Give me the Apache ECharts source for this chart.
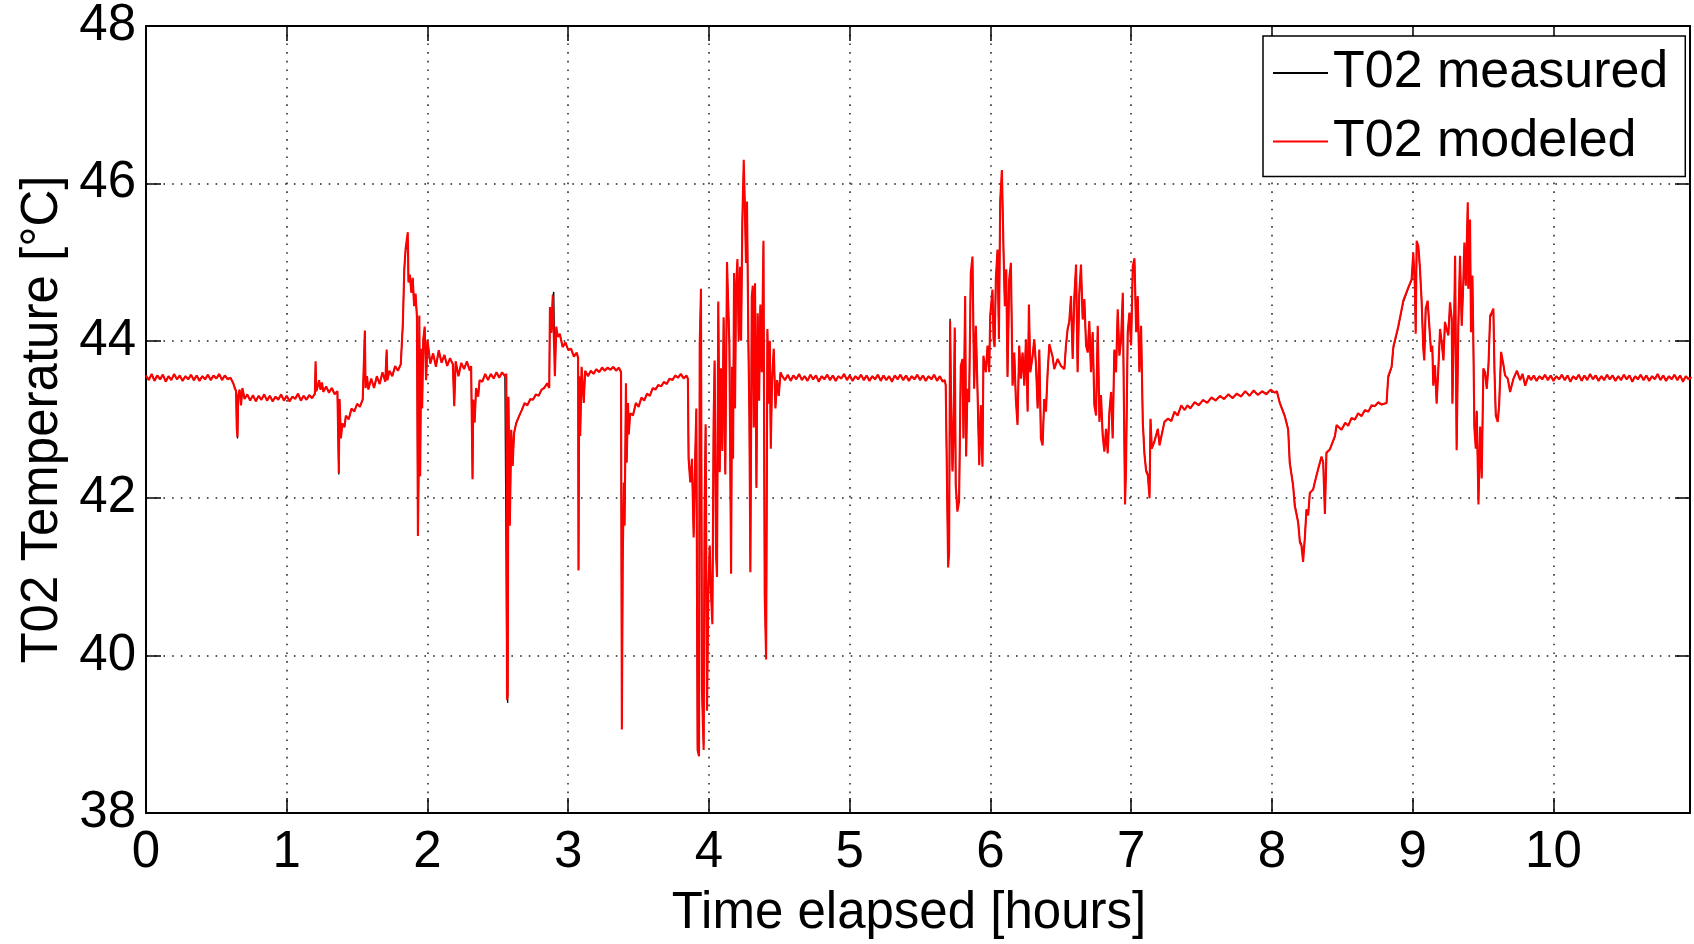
<!DOCTYPE html>
<html>
<head>
<meta charset="utf-8">
<script src="https://cdn.jsdelivr.net/npm/echarts@6/dist/echarts.min.js"></script>
<style>
html,body{margin:0;padding:0;background:#fff;}
#chart{width:1694px;height:944px;}
</style>
</head>
<body>
<div id="chart"></div>
<script>
// Axis ranges / tick labels
const xTickValues = [0,1,2,3,4,5,6,7,8,9,10];
const yTickValues = [38,40,42,44,46,48];
const seriesNames = ['T02 measured', 'T02 modeled'];

// T02 modeled temperature [hours, °C]
const modeledPairs = [
[0,43.56],[0.02,43.50],[0.04,43.58],[0.06,43.49],[0.08,43.56],[0.10,43.51],[0.12,43.57],[0.14,43.48],[0.16,43.55],[0.18,43.50],
[0.20,43.58],[0.22,43.51],[0.24,43.56],[0.26,43.49],[0.28,43.55],[0.30,43.51],[0.32,43.57],[0.34,43.50],[0.36,43.56],[0.38,43.49],
[0.40,43.55],[0.42,43.51],[0.44,43.57],[0.46,43.50],[0.48,43.56],[0.50,43.52],[0.52,43.58],[0.54,43.50],[0.56,43.56],[0.58,43.51],
[0.60,43.53],[0.62,43.46],[0.63,43.40],[0.64,43.36],[0.645,42.88],[0.65,42.78],[0.655,43.30],[0.665,43.38],[0.675,43.18],[0.685,43.40],
[0.70,43.26],[0.72,43.32],[0.74,43.24],[0.76,43.31],[0.78,43.23],[0.80,43.30],[0.82,43.25],[0.84,43.32],[0.86,43.24],[0.88,43.30],
[0.90,43.23],[0.92,43.29],[0.94,43.25],[0.96,43.32],[0.98,43.24],[1.00,43.30],[1.02,43.23],[1.04,43.29],[1.06,43.26],[1.08,43.33],
[1.10,43.24],[1.12,43.30],[1.14,43.25],[1.16,43.31],[1.18,43.27],[1.20,43.33],[1.205,43.74],[1.21,43.36],[1.22,43.42],[1.23,43.50],
[1.24,43.38],[1.25,43.47],[1.26,43.35],[1.28,43.42],[1.30,43.34],[1.32,43.40],[1.34,43.32],[1.36,43.36],[1.37,42.32],[1.375,43.26],
[1.385,42.76],[1.395,42.95],[1.41,42.90],[1.42,43.05],[1.44,43.00],[1.46,43.14],[1.48,43.10],[1.50,43.20],[1.52,43.16],[1.54,43.26],
[1.555,44.13],[1.56,43.40],[1.57,43.55],[1.58,43.38],[1.60,43.52],[1.62,43.40],[1.64,43.55],[1.66,43.45],[1.68,43.60],[1.70,43.48],
[1.71,43.89],[1.715,43.50],[1.73,43.62],[1.75,43.55],[1.77,43.68],[1.79,43.62],[1.81,43.70],[1.825,44.23],[1.835,44.91],[1.845,45.18],
[1.86,45.38],[1.865,44.74],[1.875,44.84],[1.885,44.61],[1.895,44.80],[1.905,44.44],[1.915,44.60],[1.925,44.30],[1.932,41.52],[1.937,42.29],
[1.942,44.32],[1.948,42.28],[1.955,43.90],[1.962,43.14],[1.97,44.02],[1.98,44.18],[1.99,43.50],[2.00,44.01],[2.02,43.71],[2.04,43.84],
[2.06,43.67],[2.08,43.88],[2.10,43.72],[2.12,43.82],[2.14,43.68],[2.16,43.78],[2.18,43.70],[2.19,43.17],[2.20,43.74],[2.22,43.55],
[2.24,43.72],[2.26,43.64],[2.28,43.74],[2.30,43.62],[2.31,43.68],[2.32,42.24],[2.325,43.25],[2.335,42.96],[2.345,43.40],[2.36,43.29],
[2.37,43.50],[2.39,43.48],[2.41,43.58],[2.43,43.50],[2.45,43.58],[2.47,43.52],[2.49,43.60],[2.51,43.53],[2.53,43.60],[2.55,43.55],
[2.56,43.58],[2.565,39.44],[2.57,39.50],[2.575,43.29],[2.585,41.65],[2.595,42.87],[2.605,42.41],[2.615,42.83],[2.63,42.95],[2.65,43.04],
[2.67,43.12],[2.69,43.21],[2.71,43.18],[2.73,43.26],[2.75,43.25],[2.77,43.32],[2.79,43.30],[2.81,43.38],[2.83,43.40],[2.85,43.46],
[2.865,43.40],[2.87,44.43],[2.88,44.10],[2.89,44.58],[2.897,44.60],[2.905,43.55],[2.915,44.18],[2.925,44.05],[2.94,44.09],[2.96,43.92],
[2.98,43.98],[3.00,43.88],[3.02,43.90],[3.04,43.80],[3.06,43.85],[3.07,43.78],[3.073,41.08],[3.078,43.55],[3.085,42.79],[3.095,43.67],
[3.11,43.21],[3.12,43.62],[3.14,43.55],[3.16,43.62],[3.18,43.58],[3.20,43.64],[3.22,43.60],[3.24,43.66],[3.26,43.62],[3.28,43.66],
[3.30,43.63],[3.32,43.67],[3.34,43.62],[3.36,43.66],[3.375,43.60],[3.381,39.06],[3.387,41.19],[3.395,42.20],[3.40,41.65],[3.405,42.49],
[3.41,43.46],[3.415,42.45],[3.425,43.21],[3.43,42.81],[3.44,43.08],[3.46,43.05],[3.48,43.21],[3.50,43.16],[3.52,43.28],[3.54,43.24],
[3.56,43.33],[3.58,43.30],[3.60,43.40],[3.62,43.38],[3.64,43.44],[3.66,43.42],[3.68,43.48],[3.70,43.45],[3.72,43.52],[3.74,43.50],
[3.76,43.56],[3.78,43.53],[3.80,43.58],[3.82,43.52],[3.84,43.56],[3.85,43.52],[3.855,42.50],[3.867,42.20],[3.879,42.50],[3.891,41.50],
[3.903,42.60],[3.910,43.14],[3.919,38.80],[3.929,38.72],[3.934,43.95],[3.943,44.66],[3.950,39.57],[3.962,38.80],[3.969,41.85],[3.976,42.94],
[3.986,39.30],[3.995,40.76],[4.005,41.40],[4.014,40.80],[4.024,40.40],[4.033,42.99],[4.040,43.75],[4.050,41.30],[4.057,41.00],[4.066,44.50],
[4.076,42.33],[4.085,43.65],[4.095,42.60],[4.104,44.30],[4.116,42.30],[4.128,45.00],[4.135,44.56],[4.145,43.95],[4.157,41.04],[4.164,43.67],
[4.171,42.50],[4.178,44.86],[4.185,43.14],[4.192,44.66],[4.202,45.04],[4.211,44.00],[4.221,44.94],[4.228,44.00],[4.237,45.54],[4.247,46.30],
[4.256,45.62],[4.263,44.99],[4.270,45.77],[4.280,43.95],[4.287,43.04],[4.294,41.06],[4.304,44.56],[4.311,44.70],[4.318,42.90],[4.327,44.73],
[4.337,42.13],[4.346,44.35],[4.356,43.24],[4.365,44.46],[4.375,43.60],[4.387,45.27],[4.396,40.76],[4.406,39.95],[4.415,44.15],[4.425,43.20],
[4.432,44.00],[4.439,42.63],[4.448,43.50],[4.460,43.90],[4.472,43.14],[4.484,43.50],[4.496,43.30],[4.508,43.60],
[4.52,43.55],[4.54,43.50],[4.56,43.57],[4.58,43.49],[4.60,43.56],[4.62,43.51],[4.64,43.58],[4.66,43.50],[4.68,43.55],[4.70,43.49],
[4.72,43.57],[4.74,43.51],[4.76,43.56],[4.78,43.48],[4.80,43.55],[4.82,43.51],[4.84,43.57],[4.86,43.50],[4.88,43.56],[4.90,43.49],
[4.92,43.55],[4.94,43.52],[4.96,43.58],[4.98,43.50],[5.00,43.56],[5.02,43.49],[5.04,43.55],[5.06,43.51],[5.08,43.57],[5.10,43.50],
[5.12,43.56],[5.14,43.49],[5.16,43.55],[5.18,43.51],[5.20,43.57],[5.22,43.49],[5.24,43.56],[5.26,43.50],[5.28,43.55],[5.30,43.48],
[5.32,43.56],[5.34,43.51],[5.36,43.57],[5.38,43.50],[5.40,43.56],[5.42,43.49],[5.44,43.55],[5.46,43.51],[5.48,43.57],[5.50,43.50],
[5.52,43.56],[5.54,43.49],[5.56,43.55],[5.58,43.51],[5.60,43.57],[5.62,43.49],[5.64,43.55],[5.66,43.48],[5.675,43.50],[5.682,43.43],
[5.699,41.12],[5.706,41.30],[5.713,44.25],[5.720,43.24],[5.730,42.34],[5.737,42.78],[5.746,44.17],[5.753,42.17],[5.765,41.83],[5.777,41.96],
[5.789,43.68],[5.801,43.77],[5.808,42.76],[5.820,44.57],[5.827,42.53],[5.836,43.39],[5.848,43.22],[5.860,44.86],[5.872,45.07],[5.884,43.39],
[5.896,44.19],[5.908,43.35],[5.920,42.42],[5.931,43.18],[5.943,42.40],[5.950,43.81],[5.967,43.60],[5.979,43.94],[5.991,43.60],[5.998,44.32],
[6.014,44.65],[6.022,44.02],[6.029,43.92],[6.038,44.78],[6.050,45.16],[6.060,44.02],[6.069,45.79],[6.081,46.17],[6.093,45.12],[6.102,44.44],
[6.112,44.91],[6.121,43.54],[6.133,44.78],[6.145,44.99],[6.157,43.43],[6.169,43.85],[6.180,43.26],[6.192,42.93],[6.204,43.94],[6.216,43.52],
[6.228,43.85],[6.240,43.43],[6.252,44.02],[6.264,43.10],[6.273,44.46],[6.283,43.60],[6.299,43.81],[6.311,44.02],[6.323,43.70],[6.335,43.14],
[6.347,43.89],[6.358,42.76],[6.370,42.67],[6.382,43.26],[6.394,43.10],[6.406,43.60],[6.418,43.96],[6.430,43.94],[6.441,43.80],[6.453,43.64],
[6.477,43.77],[6.501,43.68],[6.525,43.64],[6.536,43.94],[6.548,44.15],[6.560,44.25],[6.572,44.57],[6.584,43.77],[6.596,44.57],[6.608,44.97],
[6.619,43.60],[6.631,44.61],[6.643,44.97],[6.655,44.27],[6.667,44.53],[6.679,43.94],[6.691,43.85],[6.702,44.25],[6.714,43.60],[6.726,44.11],
[6.738,43.18],[6.750,43.05],[6.762,44.19],[6.774,42.97],[6.785,43.31],[6.797,42.80],[6.809,42.59],[6.821,42.88],[6.833,42.57],[6.845,43.10],
[6.857,43.35],[6.868,42.76],[6.880,43.89],[6.892,43.60],[6.904,44.40],[6.916,43.81],[6.928,44.02],[6.940,44.61],[6.947,43.35],[6.956,41.92],
[6.963,42.38],[6.975,44.11],[6.987,44.36],[6.999,43.94],[7.011,44.95],[7.023,45.05],[7.035,44.11],[7.046,44.57],[7.058,43.60],[7.070,44.19],
[7.082,42.97],[7.094,42.55],[7.106,42.34],[7.118,42.29],[7.130,42.00],[7.137,43.01],[7.146,42.63],[7.165,42.72],[7.189,42.88],[7.201,42.67],
[7.236,42.97],[7.260,43.01],[7.285,42.98],[7.307,43.10],[7.330,43.05],[7.355,43.18],[7.38,43.12],[7.40,43.18],[7.42,43.14],[7.45,43.22],
[7.48,43.18],[7.51,43.25],[7.54,43.21],[7.57,43.28],[7.60,43.24],[7.63,43.30],[7.66,43.26],[7.69,43.32],[7.72,43.27],[7.75,43.33],
[7.78,43.29],[7.81,43.36],[7.84,43.30],[7.87,43.37],[7.90,43.31],[7.93,43.36],[7.96,43.32],[7.99,43.38],[8.02,43.34],[8.035,43.36],
[8.055,43.21],[8.091,43.04],[8.115,42.87],[8.126,42.45],[8.150,42.16],[8.162,41.90],[8.186,41.69],[8.198,41.44],[8.209,41.40],[8.221,41.19],
[8.233,41.48],[8.245,41.86],[8.257,41.78],[8.269,42.07],[8.293,42.11],[8.304,42.20],[8.328,42.37],[8.352,42.53],[8.364,42.45],[8.376,41.80],
[8.387,42.58],[8.411,42.62],[8.447,42.79],[8.459,42.93],[8.494,42.87],[8.520,42.96],[8.542,42.92],[8.565,43.02],[8.589,43.00],[8.612,43.08],
[8.636,43.04],[8.660,43.12],[8.684,43.10],[8.708,43.18],[8.731,43.17],[8.755,43.22],[8.779,43.19],[8.814,43.21],[8.826,43.55],[8.850,43.67],
[8.862,43.92],[8.897,44.18],[8.933,44.51],[8.969,44.68],[8.992,44.78],[9.004,45.12],[9.016,44.66],[9.021,44.09],[9.028,45.27],[9.040,45.20],
[9.051,44.93],[9.063,44.51],[9.075,43.90],[9.082,43.75],[9.092,44.41],[9.106,44.51],[9.116,44.24],[9.130,43.86],[9.139,43.94],[9.146,43.43],
[9.158,43.69],[9.170,43.20],[9.182,43.65],[9.194,44.15],[9.206,43.98],[9.218,43.75],[9.229,44.24],[9.241,44.15],[9.253,44.07],[9.265,44.49],
[9.277,44.28],[9.282,43.20],[9.296,44.45],[9.301,45.08],[9.312,42.61],[9.324,44.19],[9.336,45.08],[9.348,44.19],[9.360,44.78],[9.367,45.25],
[9.377,44.70],[9.391,45.76],[9.395,44.66],[9.407,45.54],[9.414,44.11],[9.424,44.83],[9.431,43.94],[9.438,42.89],[9.448,42.63],[9.455,43.10],
[9.467,41.92],[9.479,42.91],[9.490,42.25],[9.502,43.65],[9.514,43.60],[9.526,43.39],[9.538,43.69],[9.550,44.32],[9.562,44.36],[9.573,44.41],
[9.581,43.60],[9.590,43.05],[9.604,42.97],[9.614,43.18],[9.628,43.86],[9.645,43.69],[9.656,43.56],[9.675,43.52],[9.692,43.35],[9.716,43.52],
[9.740,43.62],[9.763,43.50],[9.780,43.58],[9.799,43.43],[9.823,43.56],
[9.84,43.50],[9.86,43.56],[9.88,43.49],[9.90,43.55],[9.92,43.51],[9.94,43.57],[9.96,43.50],[9.98,43.56],[10.00,43.49],[10.02,43.55],
[10.04,43.51],[10.06,43.57],[10.08,43.50],[10.10,43.56],[10.12,43.48],[10.14,43.55],[10.16,43.51],[10.18,43.57],[10.20,43.49],[10.22,43.56],
[10.24,43.50],[10.26,43.58],[10.28,43.51],[10.30,43.56],[10.32,43.49],[10.34,43.55],[10.36,43.50],[10.38,43.57],[10.40,43.51],[10.42,43.56],
[10.44,43.49],[10.46,43.55],[10.48,43.50],[10.50,43.57],[10.52,43.51],[10.54,43.56],[10.56,43.48],[10.58,43.55],[10.60,43.51],[10.62,43.57],
[10.64,43.50],[10.66,43.56],[10.68,43.49],[10.70,43.55],[10.72,43.51],[10.74,43.58],[10.76,43.50],[10.78,43.56],[10.80,43.49],[10.82,43.55],
[10.84,43.51],[10.86,43.57],[10.88,43.50],[10.90,43.56],[10.92,43.48],[10.94,43.55],[10.96,43.51],[10.98,43.54]
];

// T02 measured temperature [hours, °C]: almost identical to the model, differs at a few spike tips
const measuredPairs = [
[0,43.55],[0.02,43.51],[0.04,43.57],[0.06,43.50],[0.08,43.56],[0.10,43.52],[0.12,43.56],[0.14,43.49],[0.16,43.55],[0.18,43.51],
[0.20,43.57],[0.22,43.51],[0.24,43.55],[0.26,43.50],[0.28,43.55],[0.30,43.52],[0.32,43.56],[0.34,43.50],[0.36,43.56],[0.38,43.50],
[0.40,43.55],[0.42,43.52],[0.44,43.56],[0.46,43.51],[0.48,43.56],[0.50,43.52],[0.52,43.57],[0.54,43.51],[0.56,43.56],[0.58,43.52],
[0.60,43.53],[0.62,43.46],[0.63,43.41],[0.64,43.36],[0.645,42.90],[0.65,42.76],[0.655,43.30],[0.665,43.37],[0.675,43.19],[0.685,43.39],
[0.70,43.27],[0.72,43.31],[0.74,43.25],[0.76,43.30],[0.78,43.24],[0.80,43.30],[0.82,43.26],[0.84,43.31],[0.86,43.25],[0.88,43.30],
[0.90,43.24],[0.92,43.29],[0.94,43.26],[0.96,43.31],[0.98,43.25],[1.00,43.30],[1.02,43.24],[1.04,43.29],[1.06,43.27],[1.08,43.32],
[1.10,43.25],[1.12,43.30],[1.14,43.26],[1.16,43.31],[1.18,43.28],[1.20,43.32],[1.205,43.70],[1.21,43.36],[1.22,43.42],[1.23,43.49],
[1.24,43.38],[1.25,43.46],[1.26,43.36],[1.28,43.41],[1.30,43.35],[1.32,43.40],[1.34,43.33],[1.36,43.36],[1.37,42.30],[1.375,43.26],
[1.385,42.78],[1.395,42.95],[1.41,42.91],[1.42,43.04],[1.44,43.01],[1.46,43.13],[1.48,43.11],[1.50,43.19],[1.52,43.17],[1.54,43.25],
[1.555,44.10],[1.56,43.41],[1.57,43.54],[1.58,43.39],[1.60,43.51],[1.62,43.41],[1.64,43.54],[1.66,43.46],[1.68,43.59],[1.70,43.49],
[1.71,43.86],[1.715,43.51],[1.73,43.61],[1.75,43.56],[1.77,43.67],[1.79,43.63],[1.81,43.70],[1.825,44.20],[1.835,44.90],[1.845,45.16],
[1.86,45.20],[1.865,44.76],[1.875,44.83],[1.885,44.62],[1.895,44.79],[1.905,44.45],[1.915,44.59],[1.925,44.31],[1.932,41.55],[1.937,42.30],
[1.942,44.30],[1.948,42.30],[1.955,43.89],[1.962,43.15],[1.97,44.01],[1.98,44.16],[1.99,43.51],[2.00,44.00],[2.02,43.72],[2.04,43.83],
[2.06,43.68],[2.08,43.87],[2.10,43.73],[2.12,43.81],[2.14,43.69],[2.16,43.77],[2.18,43.71],[2.19,43.19],[2.20,43.73],[2.22,43.56],
[2.24,43.71],[2.26,43.65],[2.28,43.73],[2.30,43.63],[2.31,43.67],[2.32,42.26],[2.325,43.25],[2.335,42.97],[2.345,43.39],[2.36,43.30],
[2.37,43.49],[2.39,43.49],[2.41,43.57],[2.43,43.51],[2.45,43.57],[2.47,43.53],[2.49,43.59],[2.51,43.54],[2.53,43.59],[2.55,43.56],
[2.56,43.57],[2.565,39.48],[2.57,39.40],[2.575,43.28],[2.585,41.68],[2.595,42.86],[2.605,42.43],[2.615,42.82],[2.63,42.96],[2.65,43.04],
[2.67,43.12],[2.69,43.20],[2.71,43.19],[2.73,43.25],[2.75,43.26],[2.77,43.31],[2.79,43.31],[2.81,43.37],[2.83,43.41],[2.85,43.45],
[2.865,43.41],[2.87,44.40],[2.88,44.12],[2.89,44.56],[2.897,44.62],[2.905,43.57],[2.915,44.16],[2.925,44.06],[2.94,44.08],[2.96,43.93],
[2.98,43.97],[3.00,43.89],[3.02,43.89],[3.04,43.81],[3.06,43.84],[3.07,43.79],[3.073,41.10],[3.078,43.54],[3.085,42.80],[3.095,43.66],
[3.11,43.22],[3.12,43.61],[3.14,43.56],[3.16,43.61],[3.18,43.59],[3.20,43.63],[3.22,43.61],[3.24,43.65],[3.26,43.63],[3.28,43.65],
[3.30,43.64],[3.32,43.66],[3.34,43.63],[3.36,43.65],[3.375,43.61],[3.381,39.12],[3.387,41.20],[3.395,42.19],[3.40,41.67],[3.405,42.48],
[3.41,43.44],[3.415,42.46],[3.425,43.20],[3.43,42.82],[3.44,43.08],[3.46,43.06],[3.48,43.20],[3.50,43.17],[3.52,43.27],[3.54,43.25],
[3.56,43.32],[3.58,43.31],[3.60,43.39],[3.62,43.39],[3.64,43.43],[3.66,43.43],[3.68,43.47],[3.70,43.46],[3.72,43.51],[3.74,43.51],
[3.76,43.55],[3.78,43.54],[3.80,43.57],[3.82,43.53],[3.84,43.55],[3.85,43.52],[3.855,42.52],[3.867,42.22],[3.879,42.48],[3.891,41.54],
[3.903,42.58],[3.910,43.10],[3.919,38.86],[3.929,38.78],[3.934,43.90],[3.943,44.60],[3.950,39.62],[3.962,38.86],[3.969,41.86],[3.976,42.90],
[3.986,39.36],[3.995,40.78],[4.005,41.38],[4.014,40.82],[4.024,40.44],[4.033,42.96],[4.040,43.72],[4.050,41.32],[4.057,41.04],[4.066,44.46],
[4.076,42.36],[4.085,43.62],[4.095,42.62],[4.104,44.27],[4.116,42.33],[4.128,44.96],[4.135,44.54],[4.145,43.93],[4.157,41.08],[4.164,43.65],
[4.171,42.52],[4.178,44.82],[4.185,43.16],[4.192,44.63],[4.202,45.00],[4.211,44.02],[4.221,44.90],[4.228,44.02],[4.237,45.50],[4.247,46.20],
[4.256,45.58],[4.263,45.00],[4.270,45.72],[4.280,43.97],[4.287,43.06],[4.294,41.10],[4.304,44.52],[4.311,44.67],[4.318,42.92],[4.327,44.70],
[4.337,42.16],[4.346,44.32],[4.356,43.26],[4.365,44.43],[4.375,43.61],[4.387,45.22],[4.396,40.80],[4.406,40.00],[4.415,44.12],[4.425,43.22],
[4.432,43.98],[4.439,42.65],[4.448,43.50],[4.460,43.88],[4.472,43.16],[4.484,43.50],[4.496,43.31],[4.508,43.59],
[4.52,43.55],[4.54,43.51],[4.56,43.56],[4.58,43.50],[4.60,43.56],[4.62,43.52],[4.64,43.57],[4.66,43.51],[4.68,43.55],[4.70,43.50],
[4.72,43.56],[4.74,43.52],[4.76,43.56],[4.78,43.49],[4.80,43.55],[4.82,43.52],[4.84,43.56],[4.86,43.51],[4.88,43.56],[4.90,43.50],
[4.92,43.55],[4.94,43.52],[4.96,43.57],[4.98,43.51],[5.00,43.56],[5.02,43.50],[5.04,43.55],[5.06,43.52],[5.08,43.56],[5.10,43.51],
[5.12,43.56],[5.14,43.50],[5.16,43.55],[5.18,43.52],[5.20,43.56],[5.22,43.50],[5.24,43.56],[5.26,43.51],[5.28,43.55],[5.30,43.49],
[5.32,43.56],[5.34,43.52],[5.36,43.56],[5.38,43.51],[5.40,43.56],[5.42,43.50],[5.44,43.55],[5.46,43.52],[5.48,43.56],[5.50,43.51],
[5.52,43.56],[5.54,43.50],[5.56,43.55],[5.58,43.52],[5.60,43.56],[5.62,43.50],[5.64,43.55],[5.66,43.49],[5.675,43.50],[5.682,43.44],
[5.699,41.16],[5.706,41.32],[5.713,44.28],[5.720,43.25],[5.730,42.36],[5.737,42.77],[5.746,44.14],[5.753,42.19],[5.765,41.86],[5.777,41.98],
[5.789,43.66],[5.801,43.76],[5.808,42.78],[5.820,44.54],[5.827,42.55],[5.836,43.38],[5.848,43.23],[5.860,44.83],[5.872,45.03],[5.884,43.41],
[5.896,44.17],[5.908,43.36],[5.920,42.45],[5.931,43.18],[5.943,42.43],[5.950,43.79],[5.967,43.61],[5.979,43.92],[5.991,43.61],[5.998,44.30],
[6.014,44.62],[6.022,44.03],[6.029,43.93],[6.038,44.75],[6.050,45.13],[6.060,44.04],[6.069,45.74],[6.081,46.10],[6.093,45.10],[6.102,44.46],
[6.112,44.88],[6.121,43.56],[6.133,44.75],[6.145,44.96],[6.157,43.45],[6.169,43.84],[6.180,43.28],[6.192,42.95],[6.204,43.92],[6.216,43.53],
[6.228,43.84],[6.240,43.44],[6.252,44.00],[6.264,43.12],[6.273,44.43],[6.283,43.61],[6.299,43.80],[6.311,44.01],[6.323,43.70],[6.335,43.16],
[6.347,43.87],[6.358,42.78],[6.370,42.69],[6.382,43.26],[6.394,43.11],[6.406,43.59],[6.418,43.94],[6.430,43.93],[6.441,43.80],[6.453,43.65],
[6.477,43.76],[6.501,43.68],[6.525,43.65],[6.536,43.92],[6.548,44.14],[6.560,44.24],[6.572,44.54],[6.584,43.79],[6.596,44.55],[6.608,44.93],
[6.619,43.62],[6.631,44.58],[6.643,44.94],[6.655,44.28],[6.667,44.51],[6.679,43.95],[6.691,43.86],[6.702,44.23],[6.714,43.61],[6.726,44.10],
[6.738,43.20],[6.750,43.07],[6.762,44.16],[6.774,42.99],[6.785,43.30],[6.797,42.82],[6.809,42.61],[6.821,42.87],[6.833,42.59],[6.845,43.09],
[6.857,43.34],[6.868,42.78],[6.880,43.87],[6.892,43.60],[6.904,44.37],[6.916,43.82],[6.928,44.01],[6.940,44.58],[6.947,43.37],[6.956,41.96],
[6.963,42.40],[6.975,44.09],[6.987,44.34],[6.999,43.95],[7.011,44.92],[7.023,45.00],[7.035,44.12],[7.046,44.55],[7.058,43.61],[7.070,44.17],
[7.082,42.99],[7.094,42.57],[7.106,42.36],[7.118,42.31],[7.130,42.04],[7.137,43.00],[7.146,42.65],[7.165,42.73],[7.189,42.88],[7.201,42.69],
[7.236,42.97],[7.260,43.01],[7.285,42.99],[7.307,43.09],[7.330,43.06],[7.355,43.17],[7.38,43.13],[7.40,43.18],[7.42,43.15],[7.45,43.21],
[7.48,43.19],[7.51,43.24],[7.54,43.22],[7.57,43.27],[7.60,43.25],[7.63,43.29],[7.66,43.27],[7.69,43.31],[7.72,43.28],[7.75,43.32],
[7.78,43.30],[7.81,43.35],[7.84,43.31],[7.87,43.36],[7.90,43.32],[7.93,43.35],[7.96,43.33],[7.99,43.37],[8.02,43.34],[8.035,43.35],
[8.055,43.22],[8.091,43.05],[8.115,42.88],[8.126,42.47],[8.150,42.17],[8.162,41.92],[8.186,41.70],[8.198,41.46],[8.209,41.42],[8.221,41.24],
[8.233,41.49],[8.245,41.85],[8.257,41.79],[8.269,42.06],[8.293,42.12],[8.304,42.20],[8.328,42.37],[8.352,42.52],[8.364,42.46],[8.376,41.84],
[8.387,42.57],[8.411,42.62],[8.447,42.78],[8.459,42.92],[8.494,42.87],[8.520,42.95],[8.542,42.93],[8.565,43.01],[8.589,43.00],[8.612,43.07],
[8.636,43.05],[8.660,43.11],[8.684,43.10],[8.708,43.17],[8.731,43.17],[8.755,43.21],[8.779,43.19],[8.814,43.21],[8.826,43.53],[8.850,43.66],
[8.862,43.90],[8.897,44.17],[8.933,44.49],[8.969,44.67],[8.992,44.77],[9.004,45.08],[9.016,44.67],[9.021,44.12],[9.028,45.22],[9.040,45.18],
[9.051,44.92],[9.063,44.52],[9.075,43.92],[9.082,43.77],[9.092,44.39],[9.106,44.49],[9.116,44.24],[9.130,43.87],[9.139,43.93],[9.146,43.45],
[9.158,43.68],[9.170,43.22],[9.182,43.64],[9.194,44.13],[9.206,43.98],[9.218,43.76],[9.229,44.22],[9.241,44.15],[9.253,44.07],[9.265,44.46],
[9.277,44.28],[9.282,43.23],[9.296,44.42],[9.301,45.03],[9.312,42.65],[9.324,44.18],[9.336,45.03],[9.348,44.20],[9.360,44.76],[9.367,45.20],
[9.377,44.71],[9.391,45.70],[9.395,44.68],[9.407,45.50],[9.414,44.13],[9.424,44.80],[9.431,43.96],[9.438,42.92],[9.448,42.66],[9.455,43.11],
[9.467,41.97],[9.479,42.90],[9.490,42.28],[9.502,43.63],[9.514,43.60],[9.526,43.40],[9.538,43.68],[9.550,44.30],[9.562,44.34],[9.573,44.38],
[9.581,43.61],[9.590,43.07],[9.604,42.99],[9.614,43.19],[9.628,43.84],[9.645,43.68],[9.656,43.56],[9.675,43.52],[9.692,43.37],[9.716,43.52],
[9.740,43.61],[9.763,43.51],[9.780,43.57],[9.799,43.44],[9.823,43.55],
[9.84,43.51],[9.86,43.55],[9.88,43.50],[9.90,43.55],[9.92,43.52],[9.94,43.56],[9.96,43.51],[9.98,43.56],[10.00,43.50],[10.02,43.55],
[10.04,43.52],[10.06,43.56],[10.08,43.51],[10.10,43.56],[10.12,43.49],[10.14,43.55],[10.16,43.52],[10.18,43.56],[10.20,43.50],[10.22,43.56],
[10.24,43.51],[10.26,43.57],[10.28,43.52],[10.30,43.56],[10.32,43.50],[10.34,43.55],[10.36,43.51],[10.38,43.56],[10.40,43.52],[10.42,43.56],
[10.44,43.50],[10.46,43.55],[10.48,43.51],[10.50,43.56],[10.52,43.52],[10.54,43.56],[10.56,43.49],[10.58,43.55],[10.60,43.52],[10.62,43.56],
[10.64,43.51],[10.66,43.56],[10.68,43.50],[10.70,43.55],[10.72,43.52],[10.74,43.57],[10.76,43.51],[10.78,43.56],[10.80,43.50],[10.82,43.55],
[10.84,43.52],[10.86,43.56],[10.88,43.51],[10.90,43.56],[10.92,43.49],[10.94,43.55],[10.96,43.52],[10.98,43.54]
];

const FONT = '"Liberation Sans", Arial, Helvetica, sans-serif';
const chart = echarts.init(document.getElementById('chart'), null, {renderer: 'canvas'});

const dotted = {type: [1.6, 7.1], color: '#222', width: 1.5};
function intLabel(v) {
  return xTickValues.indexOf(Math.round(v)) >= 0 && Math.abs(v - Math.round(v)) < 1e-6 ? String(Math.round(v)) : '';
}
function yLabel(v) {
  return yTickValues.indexOf(v) >= 0 ? String(v) : '';
}

chart.setOption({
  animation: false,
  backgroundColor: '#fff',
  grid: {left: 146, right: 4, top: 26, bottom: 128, containLabel: false},
  legend: {
    orient: 'vertical',
    left: 1263, top: 36,
    padding: [8, 17, 6, 10],
    itemGap: 10.6,
    itemWidth: 55,
    itemHeight: 2,
    icon: 'rect',
    backgroundColor: '#fff',
    borderColor: '#000',
    borderWidth: 1.5,
    borderRadius: 0,
    textStyle: {fontSize: 52, lineHeight: 58, color: '#000', fontFamily: FONT},
    data: [
      {name: seriesNames[0], icon: 'rect', itemStyle: {color: '#000'}},
      {name: seriesNames[1], icon: 'rect', itemStyle: {color: '#ff0000'}}
    ]
  },
  xAxis: [{
    type: 'value', position: 'bottom',
    min: 0, max: 10.97, interval: 1,
    name: 'Time elapsed [hours]', nameLocation: 'middle', nameGap: 75,
    nameTextStyle: {fontSize: 51, color: '#000', fontFamily: FONT, padding: [0, 18, 0, 0]},
    axisLine: {show: true, onZero: false, lineStyle: {color: '#000', width: 2}},
    axisTick: {show: true, inside: true, length: 15, lineStyle: {color: '#000', width: 1.5}},
    axisLabel: {fontSize: 51, color: '#000', fontFamily: FONT, margin: 14, formatter: intLabel, showMaxLabel: true},
    splitLine: {show: true, lineStyle: dotted}
  }, {
    type: 'value', position: 'top',
    min: 0, max: 10.97, interval: 1,
    axisLine: {show: true, onZero: false, lineStyle: {color: '#000', width: 2}},
    axisTick: {show: true, inside: true, length: 15, lineStyle: {color: '#000', width: 1.5}},
    axisLabel: {show: false},
    splitLine: {show: false}
  }],
  yAxis: [{
    type: 'value', position: 'left',
    min: 38, max: 48, interval: 2,
    name: 'T02 Temperature [°C]', nameLocation: 'middle', nameGap: 77, nameRotate: 90,
    nameTextStyle: {fontSize: 51, color: '#000', fontFamily: FONT},
    axisLine: {show: true, onZero: false, lineStyle: {color: '#000', width: 2}},
    axisTick: {show: true, inside: true, length: 15, lineStyle: {color: '#000', width: 1.5}},
    axisLabel: {fontSize: 51, color: '#000', fontFamily: FONT, margin: 10, formatter: yLabel},
    splitLine: {show: true, lineStyle: dotted}
  }, {
    type: 'value', position: 'right',
    min: 38, max: 48, interval: 2,
    axisLine: {show: true, onZero: false, lineStyle: {color: '#000', width: 2}},
    axisTick: {show: true, inside: true, length: 15, lineStyle: {color: '#000', width: 1.5}},
    axisLabel: {show: false},
    splitLine: {show: false}
  }],
  series: [{
    name: seriesNames[0], type: 'line', xAxisIndex: 0, yAxisIndex: 0,
    data: measuredPairs, symbol: 'none', showSymbol: false, sampling: false,
    lineStyle: {color: '#000', width: 1.3}, itemStyle: {color: '#000'},
    clip: true, z: 2
  }, {
    name: seriesNames[1], type: 'line', xAxisIndex: 0, yAxisIndex: 0,
    data: modeledPairs, symbol: 'none', showSymbol: false, sampling: false,
    lineStyle: {color: '#ff0000', width: 2.1}, itemStyle: {color: '#ff0000'},
    clip: true, z: 3
  }]
});
</script>
</body>
</html>
